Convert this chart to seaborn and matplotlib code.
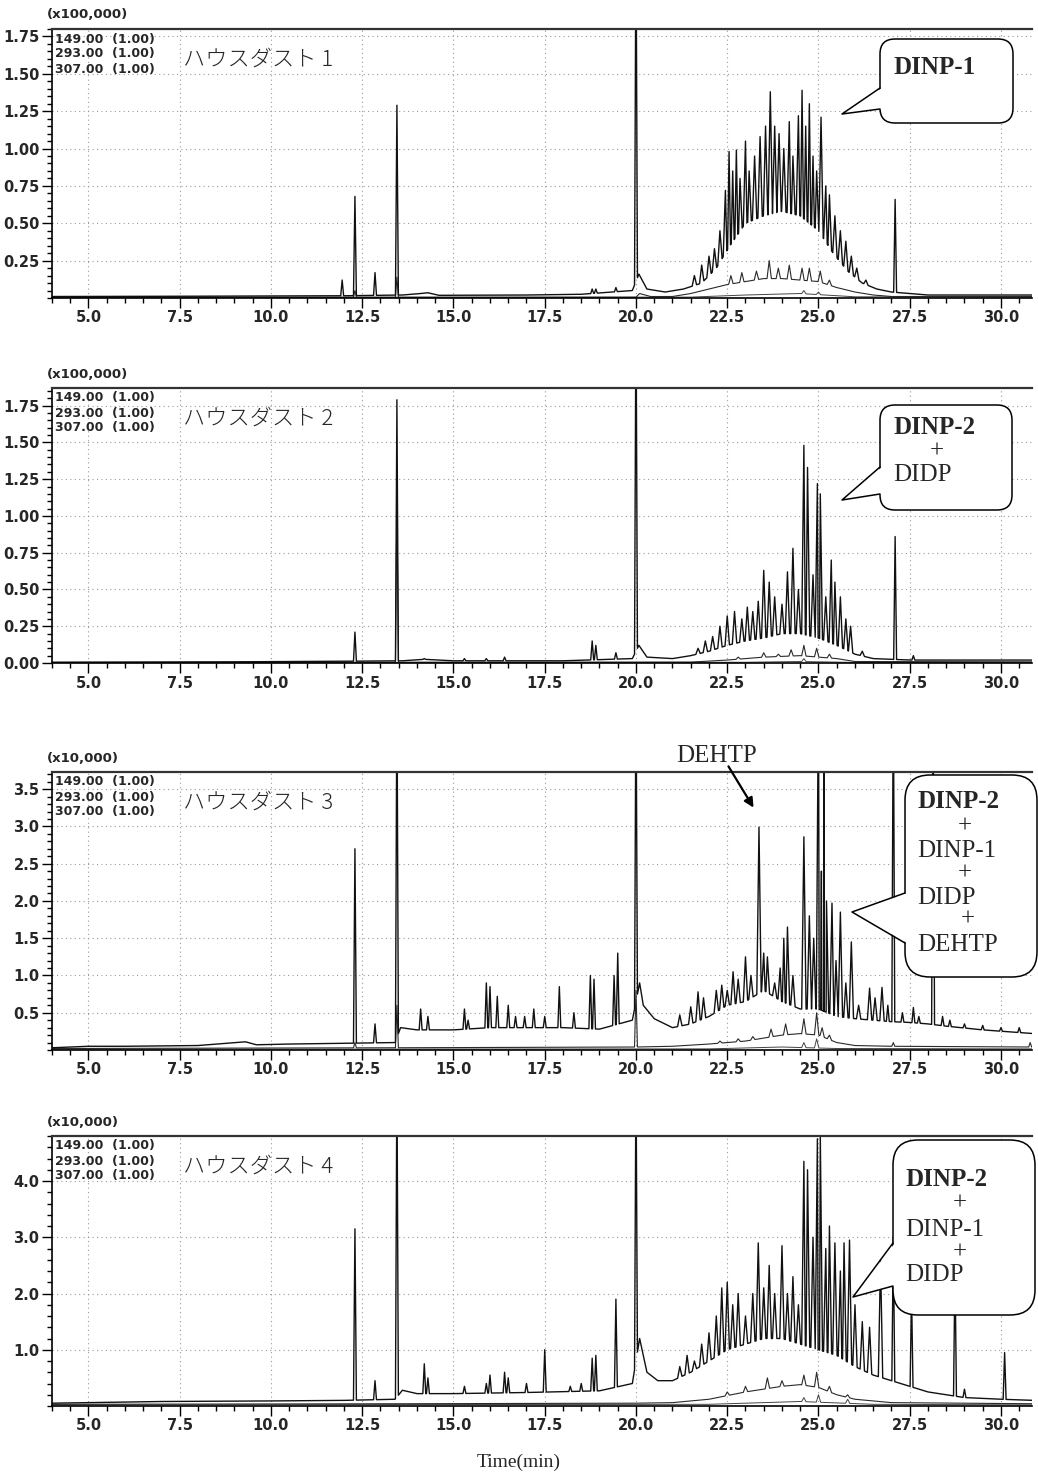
import numpy as np
import pandas as pd
import matplotlib
matplotlib.use("Agg")
import matplotlib.pyplot as plt
import seaborn as sns
from matplotlib.patches import FancyBboxPatch, Polygon, FancyArrowPatch
from matplotlib.lines import Line2D
from matplotlib.ticker import MultipleLocator, FixedLocator, FixedFormatter

# ---------------- DATA ----------------
X_TICKS = [5.0, 7.5, 10.0, 12.5, 15.0, 17.5, 20.0, 22.5, 25.0, 27.5, 30.0]
X_TICK_LABELS = ["5.0", "7.5", "10.0", "12.5", "15.0", "17.5", "20.0", "22.5", "25.0", "27.5", "30.0"]
ION_LABELS = ["149.00  (1.00)", "293.00  (1.00)", "307.00  (1.00)"]
SAMPLE_LABELS = ["ハウスダスト 1", "ハウスダスト 2", "ハウスダスト 3", "ハウスダスト 4"]
SCALE_LABELS = ["(x100,000)", "(x100,000)", "(x10,000)", "(x10,000)"]
Y_TICKS_1 = [0.25, 0.50, 0.75, 1.00, 1.25, 1.50, 1.75]
Y_TICKS_2 = [0.00, 0.25, 0.50, 0.75, 1.00, 1.25, 1.50, 1.75]
Y_TICKS_3 = [0.5, 1.0, 1.5, 2.0, 2.5, 3.0, 3.5]
Y_TICKS_4 = [1.0, 2.0, 3.0, 4.0]

# ---- Panel 1 (x100,000) ----
P1_149_BASE_T = [4.0, 8.0, 12.0, 13.6, 14.1, 14.3, 14.6, 17.0, 18.5, 19.9, 20.08, 20.3, 20.8, 21.3, 21.8, 22.2, 22.6, 23.0, 23.5, 24.0, 24.5, 25.0, 25.4, 25.8, 26.2, 26.6, 27.0, 28.0, 30.9]
P1_149_BASE_V = [0.010, 0.012, 0.015, 0.02, 0.03, 0.035, 0.018, 0.02, 0.025, 0.05, 0.16, 0.06, 0.04, 0.06, 0.10, 0.20, 0.36, 0.50, 0.55, 0.58, 0.55, 0.45, 0.30, 0.18, 0.10, 0.06, 0.04, 0.02, 0.02]
P1_149_PEAK_T = [11.95, 12.3, 12.85, 13.45, 18.8, 18.9, 19.45, 20.0,
                 21.6, 21.8, 22.0, 22.15, 22.3, 22.45, 22.55, 22.65, 22.75, 22.85, 23.0, 23.1, 23.25, 23.4, 23.55, 23.68,
                 23.8, 23.92, 24.05, 24.2, 24.3, 24.45, 24.55, 24.65, 24.75, 24.85, 24.95, 25.07, 25.2, 25.3, 25.45,
                 25.6, 25.75, 25.9, 26.05, 26.3, 27.1]
P1_149_PEAK_H = [0.12, 0.68, 0.17, 1.29, 0.06, 0.06, 0.07, 2.50,
                 0.15, 0.22, 0.28, 0.33, 0.45, 0.72, 0.98, 0.85, 0.99, 0.80, 1.05, 0.85, 0.95, 1.08, 1.15, 1.38,
                 1.15, 1.10, 1.00, 1.18, 0.95, 1.22, 1.39, 1.15, 1.30, 0.95, 0.85, 1.21, 0.75, 0.69, 0.55,
                 0.45, 0.38, 0.28, 0.20, 0.12, 0.66]
P1_293_BASE_T = [4.0, 20.0, 20.1, 20.4, 21.0, 21.5, 22.0, 22.5, 23.0, 23.5, 24.0, 24.5, 25.0, 25.5, 26.0, 26.5, 27.0, 30.9]
P1_293_BASE_V = [0.005, 0.005, 0.03, 0.01, 0.01, 0.03, 0.06, 0.09, 0.11, 0.13, 0.13, 0.12, 0.11, 0.07, 0.04, 0.02, 0.01, 0.01]
P1_293_PEAK_T = [12.3, 13.45, 22.6, 22.9, 23.3, 23.65, 23.9, 24.2, 24.55, 24.75, 25.05, 25.3]
P1_293_PEAK_H = [0.05, 0.14, 0.15, 0.17, 0.18, 0.25, 0.20, 0.22, 0.20, 0.20, 0.18, 0.12]
P1_307_BASE_T = [4.0, 21.5, 23.0, 24.5, 26.0, 30.9]
P1_307_BASE_V = [0.004, 0.006, 0.02, 0.03, 0.008, 0.006]
P1_307_PEAK_T = [24.6, 25.0]
P1_307_PEAK_H = [0.05, 0.04]

# ---- Panel 2 (x100,000) ----
P2_149_BASE_T = [4.0, 9.0, 12.0, 13.6, 14.2, 15.0, 18.0, 19.9, 20.08, 20.3, 21.0, 21.5, 22.0, 22.5, 23.0, 23.5, 24.0, 24.5, 25.0, 25.5, 26.0, 26.5, 27.5, 30.9]
P2_149_BASE_V = [0.005, 0.008, 0.012, 0.015, 0.025, 0.015, 0.015, 0.03, 0.12, 0.04, 0.03, 0.05, 0.08, 0.12, 0.15, 0.17, 0.20, 0.20, 0.17, 0.12, 0.06, 0.03, 0.02, 0.02]
P2_149_PEAK_T = [12.3, 13.45, 14.2, 15.3, 15.9, 16.4, 18.8, 18.9, 19.45, 20.0,
                 21.7, 21.9, 22.1, 22.3, 22.5, 22.7, 22.9, 23.05, 23.2, 23.35, 23.5, 23.65, 23.8, 24.0, 24.15, 24.3,
                 24.45, 24.6, 24.7, 24.85, 24.97, 25.05, 25.2, 25.35, 25.45, 25.6, 25.75, 25.88, 26.2, 27.1, 27.6]
P2_149_PEAK_H = [0.21, 1.79, 0.03, 0.03, 0.03, 0.04, 0.15, 0.12, 0.07, 2.50,
                 0.10, 0.15, 0.18, 0.25, 0.32, 0.35, 0.30, 0.38, 0.35, 0.42, 0.63, 0.55, 0.45, 0.40, 0.62, 0.78,
                 0.50, 1.48, 1.33, 0.60, 1.22, 1.15, 0.45, 0.70, 0.55, 0.45, 0.30, 0.25, 0.08, 0.86, 0.05]
P2_293_BASE_T = [4.0, 21.5, 22.5, 23.5, 24.5, 25.5, 26.0, 30.9]
P2_293_BASE_V = [0.004, 0.006, 0.02, 0.04, 0.05, 0.03, 0.01, 0.008]
P2_293_PEAK_T = [13.45, 22.8, 23.5, 23.9, 24.25, 24.6, 24.95, 25.3]
P2_293_PEAK_H = [1.10, 0.04, 0.07, 0.06, 0.09, 0.12, 0.10, 0.06]
P2_307_BASE_T = [4.0, 23.0, 24.5, 26.0, 30.9]
P2_307_BASE_V = [0.003, 0.005, 0.01, 0.004, 0.003]
P2_307_PEAK_T = [24.6]
P2_307_PEAK_H = [0.03]

# ---- Panel 3 (x10,000) ----
P3_149_BASE_T = [4.0, 5.0, 6.0, 8.0, 9.3, 9.6, 10.5, 12.0, 13.4, 13.55, 14.0, 15.0, 16.0, 17.0, 18.0, 19.0, 19.9, 20.1, 20.2, 20.5, 21.0,
                 21.5, 22.0, 22.5, 23.0, 23.5, 24.0, 24.5, 25.0, 25.5, 26.0, 26.5, 27.0, 27.5, 28.0, 28.5, 29.5, 30.9]
P3_149_BASE_V = [0.03, 0.05, 0.05, 0.06, 0.11, 0.07, 0.08, 0.09, 0.10, 0.30, 0.27, 0.27, 0.30, 0.30, 0.30, 0.28, 0.40, 0.90, 0.60, 0.42, 0.30,
                 0.35, 0.45, 0.60, 0.65, 0.80, 0.65, 0.55, 0.55, 0.45, 0.42, 0.40, 0.38, 0.37, 0.35, 0.32, 0.27, 0.22]
P3_149_PEAK_T = [12.3, 12.85, 13.45, 14.1, 14.3, 15.3, 15.4, 15.9, 16.0, 16.2, 16.5, 16.7, 16.95, 17.2, 17.5, 17.9, 18.3, 18.75, 18.85,
                 19.4, 19.5, 20.0, 21.2, 21.5, 21.7, 21.85, 22.2, 22.35, 22.5, 22.66, 22.8, 23.0, 23.15, 23.37, 23.5, 23.6,
                 23.8, 23.95, 24.05, 24.15, 24.3, 24.6, 24.75, 24.87, 25.0, 25.08, 25.15, 25.22, 25.37, 25.48, 25.6, 25.75,
                 25.9, 26.1, 26.4, 26.55, 26.74, 26.9, 27.05, 27.3, 27.6, 27.75, 28.14, 28.4, 28.6, 29.0, 29.5, 30.0, 30.5]
P3_149_PEAK_H = [2.70, 0.35, 5.0, 0.55, 0.45, 0.55, 0.40, 0.90, 0.85, 0.72, 0.60, 0.45, 0.45, 0.55, 0.45, 0.85, 0.50, 1.00, 0.95,
                 1.00, 1.30, 5.0, 0.47, 0.58, 0.78, 0.70, 0.80, 0.87, 0.80, 1.05, 0.95, 1.25, 1.00, 2.99, 1.30, 1.25,
                 0.90, 1.10, 1.50, 1.65, 1.00, 2.86, 1.80, 1.50, 5.0, 2.40, 5.0, 2.00, 1.97, 1.20, 1.85, 0.90,
                 1.45, 0.60, 0.83, 0.70, 0.84, 0.60, 5.0, 0.50, 0.57, 0.45, 5.0, 0.45, 0.40, 0.35, 0.33, 0.30, 0.30]
P3_293_BASE_T = [4.0, 13.4, 20.0, 21.0, 22.0, 22.5, 23.0, 23.5, 24.0, 24.5, 25.0, 25.5, 26.0, 27.0, 30.9]
P3_293_BASE_V = [0.02, 0.03, 0.04, 0.05, 0.08, 0.10, 0.12, 0.16, 0.20, 0.22, 0.20, 0.10, 0.06, 0.05, 0.04]
P3_293_PEAK_T = [12.3, 13.45, 20.0, 22.3, 22.8, 23.2, 23.7, 24.1, 24.6, 24.95, 25.1, 25.3, 27.05, 30.8]
P3_293_PEAK_H = [0.10, 0.60, 0.80, 0.12, 0.15, 0.18, 0.28, 0.35, 0.42, 0.50, 0.30, 0.20, 0.10, 0.10]
P3_307_BASE_T = [4.0, 22.0, 24.0, 25.5, 30.9]
P3_307_BASE_V = [0.01, 0.015, 0.04, 0.02, 0.015]
P3_307_PEAK_T = [24.6, 24.95]
P3_307_PEAK_H = [0.10, 0.15]

# ---- Panel 4 (x10,000) ----
P4_149_BASE_T = [4.0, 6.0, 7.0, 10.0, 12.0, 13.4, 13.6, 14.0, 15.0, 17.0, 19.0, 19.9, 20.1, 20.3, 20.6, 21.0, 21.5, 22.0, 22.5,
                 23.0, 23.5, 24.0, 24.5, 25.0, 25.5, 26.0, 26.5, 27.0, 27.5, 28.0, 29.0, 30.0, 30.9]
P4_149_BASE_V = [0.05, 0.07, 0.08, 0.09, 0.10, 0.12, 0.28, 0.22, 0.22, 0.24, 0.27, 0.40, 1.20, 0.60, 0.45, 0.45, 0.60, 0.80, 1.00,
                 1.10, 1.20, 1.20, 1.10, 1.00, 0.90, 0.70, 0.55, 0.45, 0.35, 0.25, 0.15, 0.12, 0.10]
P4_149_PEAK_T = [12.3, 12.85, 13.45, 14.2, 14.3, 15.3, 15.9, 16.0, 16.4, 16.5, 17.0, 17.5, 18.2, 18.5, 18.8, 18.9, 19.45, 20.0,
                 21.2, 21.4, 21.6, 21.8, 22.0, 22.2, 22.35, 22.5, 22.65, 22.8, 23.0, 23.2, 23.35, 23.5, 23.65, 23.8, 24.0,
                 24.15, 24.3, 24.45, 24.6, 24.7, 24.85, 24.97, 25.05, 25.2, 25.3, 25.45, 25.6, 25.7, 25.85, 26.0, 26.2,
                 26.4, 26.7, 27.05, 27.55, 28.74, 29.0, 30.1]
P4_149_PEAK_H = [3.15, 0.45, 6.0, 0.75, 0.50, 0.35, 0.40, 0.55, 0.60, 0.50, 0.40, 1.00, 0.35, 0.40, 0.85, 0.90, 1.90, 6.0,
                 0.70, 0.90, 0.80, 1.10, 1.30, 1.60, 2.10, 2.20, 1.80, 2.00, 1.60, 2.00, 2.90, 2.10, 2.50, 2.00, 2.85,
                 2.00, 2.30, 1.80, 4.35, 4.20, 3.00, 4.75, 4.80, 2.80, 3.20, 2.90, 2.40, 2.90, 2.95, 1.80, 1.50,
                 1.40, 2.60, 3.00, 2.00, 2.50, 0.30, 0.95]
P4_293_BASE_T = [4.0, 13.4, 20.0, 21.0, 22.0, 23.0, 24.0, 24.5, 25.0, 25.5, 26.0, 27.0, 30.9]
P4_293_BASE_V = [0.03, 0.04, 0.05, 0.06, 0.12, 0.25, 0.35, 0.38, 0.33, 0.20, 0.12, 0.06, 0.04]
P4_293_PEAK_T = [22.5, 23.0, 23.6, 24.0, 24.6, 24.95, 25.3, 25.8]
P4_293_PEAK_H = [0.25, 0.35, 0.50, 0.45, 0.55, 0.60, 0.35, 0.20]
P4_307_BASE_T = [4.0, 22.0, 24.5, 26.5, 30.9]
P4_307_BASE_V = [0.02, 0.03, 0.08, 0.03, 0.02]
P4_307_PEAK_T = [24.6, 25.0, 25.8]
P4_307_PEAK_H = [0.15, 0.20, 0.12]

# ---------------- helpers ----------------
W, H = 1038, 1478
DPI = 100


def half_width(t):
    # peaks in the late-eluting isomer cluster are broader than the isolated ones
    return 0.06 if 21.0 < t < 26.8 else 0.04


def build_trace(base_t, base_v, pk_t, pk_h):
    bt = np.asarray(base_t, float)
    bv = np.asarray(base_v, float)
    pts = []
    windows = [(t - half_width(t), t + half_width(t)) for t in pk_t]
    for t, v in zip(bt, bv):
        if not any(a < t < b for a, b in windows):
            pts.append((t, v))
    for t, h in zip(pk_t, pk_h):
        hw = half_width(t)
        pts.append((t - hw, float(np.interp(t - hw, bt, bv))))
        pts.append((t, h))
        pts.append((t + hw, float(np.interp(t + hw, bt, bv))))
    pts.sort(key=lambda p: p[0])
    return pd.DataFrame(pts, columns=["time", "intensity"])


def inch(x, y):
    return x / DPI, (H - y) / DPI


sns.set_theme(style="white")
plt.rcParams["font.family"] = ["DejaVu Sans"]
plt.rcParams["axes.linewidth"] = 1.0

fig = plt.figure(figsize=(W / DPI, H / DPI), dpi=DPI)
fig.patch.set_facecolor("white")

TICK_FAMILY = ["DejaVu Sans"]
SERIF = ["Liberation Serif", "DejaVu Serif"]
JP = ["Noto Sans CJK JP", "DejaVu Sans"]

panels = [
    dict(top=29, bottom=298, ytop=1.80, yt=Y_TICKS_1, fmt="{:.2f}", minor=0.05,
         traces=[(P1_149_BASE_T, P1_149_BASE_V, P1_149_PEAK_T, P1_149_PEAK_H),
                 (P1_293_BASE_T, P1_293_BASE_V, P1_293_PEAK_T, P1_293_PEAK_H),
                 (P1_307_BASE_T, P1_307_BASE_V, P1_307_PEAK_T, P1_307_PEAK_H)]),
    dict(top=388, bottom=663, ytop=1.87, yt=Y_TICKS_2, fmt="{:.2f}", minor=0.05,
         traces=[(P2_149_BASE_T, P2_149_BASE_V, P2_149_PEAK_T, P2_149_PEAK_H),
                 (P2_293_BASE_T, P2_293_BASE_V, P2_293_PEAK_T, P2_293_PEAK_H),
                 (P2_307_BASE_T, P2_307_BASE_V, P2_307_PEAK_T, P2_307_PEAK_H)]),
    dict(top=772, bottom=1050, ytop=3.73, yt=Y_TICKS_3, fmt="{:.1f}", minor=0.1,
         traces=[(P3_149_BASE_T, P3_149_BASE_V, P3_149_PEAK_T, P3_149_PEAK_H),
                 (P3_293_BASE_T, P3_293_BASE_V, P3_293_PEAK_T, P3_293_PEAK_H),
                 (P3_307_BASE_T, P3_307_BASE_V, P3_307_PEAK_T, P3_307_PEAK_H)]),
    dict(top=1136, bottom=1406, ytop=4.80, yt=Y_TICKS_4, fmt="{:.1f}", minor=0.2,
         traces=[(P4_149_BASE_T, P4_149_BASE_V, P4_149_PEAK_T, P4_149_PEAK_H),
                 (P4_293_BASE_T, P4_293_BASE_V, P4_293_PEAK_T, P4_293_PEAK_H),
                 (P4_307_BASE_T, P4_307_BASE_V, P4_307_PEAK_T, P4_307_PEAK_H)]),
]

LEFT, RIGHT = 52, 1032
trace_styles = [("#111111", 1.0), ("#2a2a2a", 0.8), ("#444444", 0.7)]

for i, p in enumerate(panels):
    ax = fig.add_axes([LEFT / W, 1 - p["bottom"] / H, (RIGHT - LEFT) / W, (p["bottom"] - p["top"]) / H])
    ax.set_facecolor("white")
    for k in range(len(p["traces"]) - 1, -1, -1):
        bt, bv, pt, ph = p["traces"][k]
        df = build_trace(bt, bv, pt, ph)
        col, lw = trace_styles[k]
        sns.lineplot(data=df, x="time", y="intensity", ax=ax, estimator=None, sort=False,
                     color=col, linewidth=lw, legend=False)
    ax.set_xlim(4.0, 30.85)
    ax.set_ylim(0, p["ytop"])
    ax.set_xlabel("")
    ax.set_ylabel("")
    ax.xaxis.set_major_locator(FixedLocator(X_TICKS))
    ax.xaxis.set_major_formatter(FixedFormatter(X_TICK_LABELS))
    ax.xaxis.set_minor_locator(MultipleLocator(0.5))
    ax.yaxis.set_major_locator(FixedLocator(p["yt"]))
    ax.yaxis.set_major_formatter(FixedFormatter([p["fmt"].format(v) for v in p["yt"]]))
    ax.yaxis.set_minor_locator(MultipleLocator(p["minor"]))
    ax.tick_params(which="major", direction="out", length=7, width=1.0, color="black", pad=2)
    ax.tick_params(which="minor", direction="out", length=3.5, width=1.0, color="black")
    ax.tick_params(axis="x", which="both", bottom=True)
    ax.tick_params(axis="y", which="both", left=True)
    for lab in ax.get_xticklabels() + ax.get_yticklabels():
        lab.set_fontfamily(TICK_FAMILY)
        lab.set_fontweight("bold")
        lab.set_fontsize(10.5)
    ax.grid(True, which="major", linestyle=(0, (1, 3)), color="#9a9a9a", linewidth=0.8)
    ax.spines["right"].set_visible(False)
    ax.spines["top"].set_linewidth(1.6)
    ax.spines["top"].set_color("#333333")
    for s in ("left", "bottom"):
        ax.spines[s].set_color("black")
        ax.spines[s].set_linewidth(1.2)

    fig.text(47 / W, 1 - (p["top"] - 14) / H, SCALE_LABELS[i], fontsize=9.5, fontweight="bold",
             family=TICK_FAMILY, ha="left", va="center")
    for j, lab in enumerate(ION_LABELS):
        fig.text(55 / W, 1 - (p["top"] + 10 + 15 * j) / H, lab, fontsize=9, fontweight="bold",
                 family=TICK_FAMILY, ha="left", va="center")
    fig.text(183 / W, 1 - (p["top"] + 31) / H, SAMPLE_LABELS[i], fontsize=16, family=JP,
             fontweight="light", ha="left", va="center")


def callout(box, radius, tip, b1, b2):
    x0, y0, x1, y1 = box
    bx, by = inch(x0, y1)
    patch = FancyBboxPatch((bx, by), (x1 - x0) / DPI, (y1 - y0) / DPI,
                           boxstyle=f"round,pad=0,rounding_size={radius / DPI}",
                           transform=fig.dpi_scale_trans, fc="white", ec="black", lw=1.1, zorder=5)
    fig.add_artist(patch)
    tri = Polygon([inch(*tip), inch(b1[0] + 2, b1[1]), inch(b2[0] + 2, b2[1])], closed=True,
                  transform=fig.dpi_scale_trans, fc="white", ec="none", zorder=6)
    fig.add_artist(tri)
    xs, ys = zip(inch(*b1), inch(*tip), inch(*b2))
    fig.add_artist(Line2D(xs, ys, transform=fig.dpi_scale_trans, color="black", lw=1.1, zorder=7))


def ftext(x, y, s, bold=False, size=18, ha="left"):
    fig.text(x / W, 1 - y / H, s, fontsize=size, family=SERIF, fontweight="bold" if bold else "normal",
             ha=ha, va="center", zorder=8)


callout((880, 39, 1013, 123), 15, (842, 114), (880, 88), (880, 109))
ftext(893, 68, "DINP-1", bold=True)
callout((880, 405, 1012, 510), 15, (842, 500), (880, 467), (880, 494))
ftext(893, 427, "DINP-2", bold=True)
ftext(937, 452, "+", ha="center")
ftext(893, 475, "DIDP")
callout((905, 775, 1037, 977), 25, (852, 912), (905, 893), (905, 943))
ftext(917, 802, "DINP-2", bold=True)
ftext(965, 827, "+", ha="center")
ftext(917, 851, "DINP-1")
ftext(965, 874, "+", ha="center")
ftext(917, 898, "DIDP")
ftext(968, 920, "+", ha="center")
ftext(917, 945, "DEHTP")
callout((893, 1140, 1035, 1315), 25, (853, 1297), (893, 1243), (893, 1286))
ftext(905, 1180, "DINP-2", bold=True)
ftext(960, 1204, "+", ha="center")
ftext(905, 1230, "DINP-1")
ftext(960, 1253, "+", ha="center")
ftext(905, 1275, "DIDP")

ftext(717, 756, "DEHTP", ha="center")
arr = FancyArrowPatch(inch(727, 764), inch(755, 810), arrowstyle="-|>", mutation_scale=14,
                      transform=fig.dpi_scale_trans, color="black", lw=1.6, zorder=8)
fig.add_artist(arr)

fig.text(519 / W, 1 - 1462 / H, "Time(min)", fontsize=14, family=SERIF, ha="center", va="center")

fig.savefig("out.png", dpi=DPI)
